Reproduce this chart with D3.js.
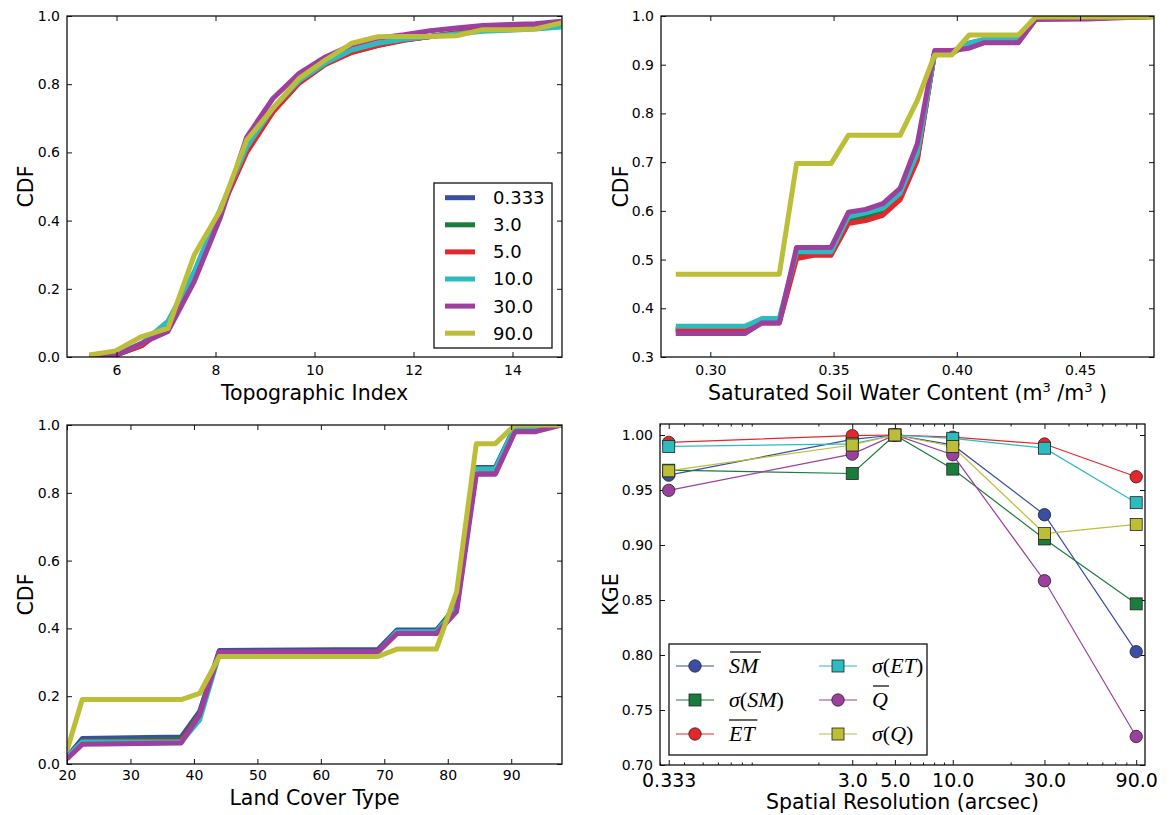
<!DOCTYPE html>
<html>
<head>
<meta charset="utf-8">
<script src="https://cdn.jsdelivr.net/npm/d3@7"></script>
<style>
  body { margin: 0; background: #fff; }
  svg { display: block; }
  text { font-family: "DejaVu Sans", sans-serif; fill: #000; }
  .math { font-family: "Liberation Serif", "DejaVu Serif", serif; }
</style>
</head>
<body>
<svg id="fig" width="1173" height="815"></svg>
<script>
// ---------------- data ----------------
const resolutionLabels = ["0.333", "3.0", "5.0", "10.0", "30.0", "90.0"];

// Topographic index CDFs
const topoX    = [5.45, 5.98, 6.51, 7.04, 7.57, 8.10, 8.63, 9.16, 9.69, 10.22, 10.75, 11.28, 11.81, 12.34, 12.87, 13.40, 13.93, 14.46, 14.99];
const topo0333 = [0.003, 0.006, 0.035, 0.095, 0.245, 0.430, 0.607, 0.724, 0.807, 0.861, 0.895, 0.915, 0.930, 0.940, 0.950, 0.958, 0.965, 0.970, 0.975];
const topo3    = [0.003, 0.006, 0.034, 0.094, 0.243, 0.430, 0.605, 0.722, 0.806, 0.860, 0.894, 0.914, 0.930, 0.940, 0.950, 0.958, 0.965, 0.970, 0.976];
const topo5    = [0.003, 0.005, 0.033, 0.093, 0.240, 0.428, 0.600, 0.718, 0.803, 0.858, 0.893, 0.913, 0.929, 0.940, 0.950, 0.958, 0.965, 0.971, 0.976];
const topo10   = [0.003, 0.007, 0.040, 0.105, 0.250, 0.435, 0.615, 0.730, 0.810, 0.862, 0.900, 0.920, 0.932, 0.940, 0.947, 0.955, 0.958, 0.962, 0.968];
const topo30   = [0.003, 0.004, 0.040, 0.075, 0.221, 0.410, 0.645, 0.758, 0.832, 0.880, 0.915, 0.935, 0.945, 0.957, 0.965, 0.972, 0.975, 0.977, 0.985];
const topo90   = [0.006, 0.018, 0.060, 0.084, 0.299, 0.431, 0.636, 0.729, 0.817, 0.871, 0.920, 0.939, 0.940, 0.940, 0.942, 0.960, 0.960, 0.962, 0.980];
const topoXTicks = [6, 8, 10, 12, 14];

// Saturated soil water content CDFs
const soilX    = [0.286, 0.314, 0.321, 0.328, 0.335, 0.342, 0.349, 0.356, 0.363, 0.370, 0.377, 0.384, 0.391, 0.398, 0.405, 0.411, 0.418, 0.425, 0.432, 0.453, 0.480];
const soil0333 = [0.357, 0.357, 0.375, 0.375, 0.512, 0.514, 0.514, 0.583, 0.590, 0.600, 0.632, 0.712, 0.926, 0.926, 0.944, 0.951, 0.951, 0.951, 0.995, 0.996, 0.999];
const soil3    = [0.356, 0.356, 0.373, 0.373, 0.508, 0.512, 0.512, 0.580, 0.587, 0.597, 0.628, 0.708, 0.925, 0.925, 0.942, 0.950, 0.950, 0.950, 0.995, 0.996, 0.999];
const soil5    = [0.355, 0.355, 0.370, 0.370, 0.502, 0.509, 0.509, 0.574, 0.580, 0.591, 0.623, 0.704, 0.925, 0.925, 0.940, 0.948, 0.948, 0.948, 0.995, 0.996, 0.999];
const soil10   = [0.363, 0.363, 0.379, 0.379, 0.516, 0.516, 0.516, 0.588, 0.596, 0.605, 0.636, 0.718, 0.923, 0.923, 0.944, 0.952, 0.952, 0.952, 0.995, 0.996, 0.999];
const soil30   = [0.348, 0.348, 0.370, 0.370, 0.525, 0.525, 0.525, 0.597, 0.603, 0.615, 0.646, 0.738, 0.929, 0.929, 0.934, 0.945, 0.945, 0.945, 0.993, 0.994, 0.999];
const soil90   = [0.470, 0.470, 0.470, 0.470, 0.697, 0.697, 0.697, 0.755, 0.755, 0.755, 0.755, 0.827, 0.920, 0.920, 0.961, 0.961, 0.961, 0.961, 0.998, 0.998, 0.998];
const soilXTicks = [0.30, 0.35, 0.40, 0.45];
const soilYTicks = [0.3, 0.4, 0.5, 0.6, 0.7, 0.8, 0.9, 1.0];

// Land cover type CDFs
const landX    = [20, 22.4, 38.0, 40.9, 44.0, 69.0, 72.0, 78.2, 81.4, 84.5, 87.5, 90.6, 93.7, 98];
const land0333 = [0.020, 0.075, 0.080, 0.155, 0.335, 0.338, 0.395, 0.395, 0.465, 0.875, 0.875, 0.995, 0.995, 1.000];
const land3    = [0.020, 0.068, 0.072, 0.150, 0.330, 0.332, 0.390, 0.390, 0.470, 0.870, 0.870, 0.995, 0.995, 1.000];
const land5    = [0.020, 0.065, 0.068, 0.145, 0.330, 0.330, 0.385, 0.385, 0.465, 0.865, 0.865, 0.990, 0.990, 1.000];
const land10   = [0.020, 0.065, 0.065, 0.130, 0.325, 0.330, 0.390, 0.390, 0.460, 0.870, 0.870, 0.995, 0.995, 1.000];
const land30   = [0.015, 0.058, 0.062, 0.145, 0.330, 0.332, 0.385, 0.385, 0.450, 0.855, 0.855, 0.980, 0.980, 1.000];
const land90   = [0.040, 0.190, 0.190, 0.208, 0.317, 0.317, 0.339, 0.339, 0.508, 0.945, 0.945, 1.000, 1.000, 1.000];
const landXTicks = [20, 30, 40, 50, 60, 70, 80, 90];

const cdfYTicks = [0.0, 0.2, 0.4, 0.6, 0.8, 1.0];

// KGE against spatial resolution
const kgeResolution = [0.333, 3.0, 5.0, 10.0, 30.0, 90.0];
const kgeMeanSM = [0.9635, 0.996, 1.000, 0.991, 0.9275, 0.803];
const kgeSdSM   = [0.968, 0.965, 1.000, 0.969, 0.9055, 0.8465];
const kgeMeanET = [0.9933, 0.9994, 1.000, 0.998, 0.9918, 0.962];
const kgeSdET   = [0.9896, 0.992, 1.000, 0.997, 0.988, 0.9385];
const kgeMeanQ  = [0.9497, 0.9826, 1.000, 0.982, 0.8675, 0.7259];
const kgeSdQ    = [0.9674, 0.9909, 1.000, 0.9896, 0.9104, 0.9187];
const kgeYTicks = [0.70, 0.75, 0.80, 0.85, 0.90, 0.95, 1.00];

// ---------------- styling ----------------
const palette = ["#3a4ea3", "#1b7d3b", "#e5262b", "#2cbcc0", "#9c3f9f", "#bdbe37"];

const svg = d3.select("#fig");

// Draws the frame and inward ticks on all four sides of a panel.
function setupAxes(box, x, y, opt) {
  const w = box.x1 - box.x0, h = box.y1 - box.y0;
  const g = svg.append("g").attr("transform", `translate(${box.x0},${box.y0})`);

  const clipId = "clip" + Math.random().toString(36).slice(2);
  g.append("clipPath").attr("id", clipId)
    .append("rect").attr("width", w).attr("height", h);
  const plot = g.append("g").attr("clip-path", `url(#${clipId})`);

  const style = (sel, size) => {
    sel.attr("font-family", null).attr("font-size", null).attr("color", "#000");
    sel.select(".domain").remove();
    sel.selectAll("line").attr("stroke", "#111").attr("stroke-width", 1);
    sel.selectAll("text").style("font-size", size + "px");
  };

  const xs = opt.xTickSize || 14, ys = opt.yTickSize || 14;
  // bottom
  g.append("g").attr("transform", `translate(0,${h})`)
    .call(d3.axisBottom(x).tickValues(opt.xTicks).tickFormat(opt.xFmt)
      .tickSizeInner(-5).tickSizeOuter(0).tickPadding(opt.xPad || 8))
    .call(s => style(s, xs));
  // top
  g.append("g")
    .call(d3.axisTop(x).tickValues(opt.xTicks).tickFormat("")
      .tickSizeInner(-5).tickSizeOuter(0))
    .call(s => style(s, xs));
  // left
  g.append("g")
    .call(d3.axisLeft(y).tickValues(opt.yTicks).tickFormat(opt.yFmt)
      .tickSizeInner(-5).tickSizeOuter(0).tickPadding(7))
    .call(s => style(s, ys));
  // right
  g.append("g").attr("transform", `translate(${w},0)`)
    .call(d3.axisRight(y).tickValues(opt.yTicks).tickFormat("")
      .tickSizeInner(-5).tickSizeOuter(0))
    .call(s => style(s, ys));

  if (opt.xMinor) {
    g.append("g").attr("transform", `translate(0,${h})`)
      .call(d3.axisBottom(x).tickValues(opt.xMinor).tickFormat("")
        .tickSizeInner(-2.5).tickSizeOuter(0))
      .call(s => style(s, xs));
    g.append("g")
      .call(d3.axisTop(x).tickValues(opt.xMinor).tickFormat("")
        .tickSizeInner(-2.5).tickSizeOuter(0))
      .call(s => style(s, xs));
  }

  g.append("rect").attr("width", w).attr("height", h)
    .attr("fill", "none").attr("stroke", "#111").attr("stroke-width", 1.3);

  return { g, plot, w, h };
}

function yLabel(text, xPos, yCenter) {
  svg.append("text")
    .attr("transform", `translate(${xPos},${yCenter}) rotate(-90)`)
    .attr("text-anchor", "middle").style("font-size", "20.5px").text(text);
}
function xLabel(text, xCenter, yPos) {
  return svg.append("text").attr("x", xCenter).attr("y", yPos)
    .attr("text-anchor", "middle").style("font-size", "20.5px").text(text);
}

function cdfLines(plot, x, y, xs, seriesList) {
  const line = d3.line().x((d, i) => x(xs[i])).y(d => y(d));
  seriesList.forEach((vals, k) => {
    plot.append("path").datum(vals).attr("d", line)
      .attr("fill", "none").attr("stroke", palette[k])
      .attr("stroke-width", 5).attr("stroke-linejoin", "round");
  });
}

// ---------------- panel 1: topographic index ----------------
{
  const box = { x0: 67, y0: 16, x1: 562, y1: 357 };
  const x = d3.scaleLinear().domain([5, 15]).range([0, box.x1 - box.x0]);
  const y = d3.scaleLinear().domain([0, 1]).range([box.y1 - box.y0, 0]);
  const ax = setupAxes(box, x, y, {
    xTicks: topoXTicks, xFmt: d3.format("d"),
    yTicks: cdfYTicks, yFmt: d3.format(".1f"), xPad: 8
  });
  cdfLines(ax.plot, x, y, topoX, [topo0333, topo3, topo5, topo10, topo30, topo90]);

  // legend
  const lg = svg.append("g").attr("transform", "translate(434,183)");
  lg.append("rect").attr("width", 118).attr("height", 165)
    .attr("fill", "#fff").attr("stroke", "#111").attr("stroke-width", 1.3);
  resolutionLabels.forEach((lab, i) => {
    const yy = 14.7 + 27.1 * i;
    lg.append("line").attr("x1", 11).attr("x2", 41).attr("y1", yy).attr("y2", yy)
      .attr("stroke", palette[i]).attr("stroke-width", 5);
    lg.append("text").attr("x", 59).attr("y", yy).attr("dy", "0.36em")
      .style("font-size", "18px").text(lab);
  });

  yLabel("CDF", 33, (box.y0 + box.y1) / 2);
  xLabel("Topographic Index", (box.x0 + box.x1) / 2, 400);
}

// ---------------- panel 2: saturated soil water content ----------------
{
  const box = { x0: 661, y0: 16, x1: 1154, y1: 357 };
  const x = d3.scaleLinear().domain([0.28, 0.48]).range([0, box.x1 - box.x0]);
  const y = d3.scaleLinear().domain([0.3, 1.0]).range([box.y1 - box.y0, 0]);
  const ax = setupAxes(box, x, y, {
    xTicks: soilXTicks, xFmt: d3.format(".2f"),
    yTicks: soilYTicks, yFmt: d3.format(".1f"), xPad: 8
  });
  cdfLines(ax.plot, x, y, soilX, [soil0333, soil3, soil5, soil10, soil30, soil90]);

  yLabel("CDF", 628, (box.y0 + box.y1) / 2);
  const t = xLabel("", (box.x0 + box.x1) / 2, 400);
  t.append("tspan").text("Saturated Soil Water Content (m");
  t.append("tspan").attr("dy", -8).style("font-size", "13px").text("3");
  t.append("tspan").attr("dy", 8).text(" /m");
  t.append("tspan").attr("dy", -8).style("font-size", "13px").text("3");
  t.append("tspan").attr("dy", 8).text(" )");
}

// ---------------- panel 3: land cover type ----------------
{
  const box = { x0: 67, y0: 425, x1: 562, y1: 764 };
  const x = d3.scaleLinear().domain([20, 98]).range([0, box.x1 - box.x0]);
  const y = d3.scaleLinear().domain([0, 1]).range([box.y1 - box.y0, 0]);
  const ax = setupAxes(box, x, y, {
    xTicks: landXTicks, xFmt: d3.format("d"),
    yTicks: cdfYTicks, yFmt: d3.format(".1f"), xPad: 6
  });
  cdfLines(ax.plot, x, y, landX, [land0333, land3, land5, land10, land30, land90]);

  yLabel("CDF", 33, (box.y0 + box.y1) / 2);
  xLabel("Land Cover Type", (box.x0 + box.x1) / 2, 805);
}

// ---------------- panel 4: KGE vs spatial resolution ----------------
{
  const box = { x0: 660, y0: 424, x1: 1145, y1: 765 };
  const x = d3.scaleLog().domain([0.3, 100]).range([0, box.x1 - box.x0]);
  const y = d3.scaleLinear().domain([0.70, 1.01]).range([box.y1 - box.y0, 0]);

  // minor log ticks (2..9 per decade), skipping the labelled positions
  const minor = [];
  [0.1, 1, 10].forEach(dec => {
    for (let m = 2; m <= 9; m++) {
      const v = +(m * dec).toPrecision(3);
      if (v >= 0.3 && v <= 100 && !kgeResolution.includes(v)) minor.push(v);
    }
  });

  const ax = setupAxes(box, x, y, {
    xTicks: kgeResolution, xFmt: (d, i) => resolutionLabels[i],
    yTicks: kgeYTicks, yFmt: d3.format(".2f"), xPad: 9,
    xTickSize: 19, yTickSize: 14, xMinor: minor
  });

  const kgeSeries = [
    { vals: kgeMeanSM, shape: "circle" },
    { vals: kgeSdSM,   shape: "square" },
    { vals: kgeMeanET, shape: "circle" },
    { vals: kgeSdET,   shape: "square" },
    { vals: kgeMeanQ,  shape: "circle" },
    { vals: kgeSdQ,    shape: "square" }
  ];

  const line = d3.line().x((d, i) => x(kgeResolution[i])).y(d => y(d));
  const drawMarker = (sel, shape, cx, cy, color) => {
    if (shape === "circle") {
      sel.append("circle").attr("cx", cx).attr("cy", cy).attr("r", 6.2)
        .attr("fill", color).attr("stroke", "#222").attr("stroke-width", 0.8);
    } else {
      sel.append("rect").attr("x", cx - 6).attr("y", cy - 6)
        .attr("width", 12).attr("height", 12)
        .attr("fill", color).attr("stroke", "#222").attr("stroke-width", 0.8);
    }
  };

  kgeSeries.forEach((s, k) => {
    const sg = ax.g.append("g");
    sg.append("path").datum(s.vals).attr("d", line)
      .attr("fill", "none").attr("stroke", palette[k]).attr("stroke-width", 1.2);
    s.vals.forEach((v, i) => drawMarker(sg, s.shape, x(kgeResolution[i]), y(v), palette[k]));
  });

  // legend
  const lg = svg.append("g").attr("transform", "translate(669,644)");
  lg.append("rect").attr("width", 258).attr("height", 111)
    .attr("fill", "#fff").attr("stroke", "#111").attr("stroke-width", 1.3);

  const legendText = [
    { parts: [["SM", true]], bar: true },
    { parts: [["σ", true], ["(", false], ["SM", true], [")", false]] },
    { parts: [["ET", true]], bar: true },
    { parts: [["σ", true], ["(", false], ["ET", true], [")", false]] },
    { parts: [["Q", true]], bar: true },
    { parts: [["σ", true], ["(", false], ["Q", true], [")", false]] }
  ];
  legendText.forEach((lt, k) => {
    const col = Math.floor(k / 3), row = k % 3;
    const hx = col === 0 ? 7 : 150, cy = 22 + 34 * row;
    lg.append("line").attr("x1", hx).attr("x2", hx + 38).attr("y1", cy).attr("y2", cy)
      .attr("stroke", palette[k]).attr("stroke-width", 1.2);
    drawMarker(lg, kgeSeries[k].shape, hx + 19, cy, palette[k]);
    const t = lg.append("text").attr("class", "math")
      .attr("x", hx + 53).attr("y", cy + 7).style("font-size", "22px");
    lt.parts.forEach(([s, it]) => {
      t.append("tspan").style("font-style", it ? "italic" : "normal").text(s);
    });
    if (lt.bar) {
      const bb = t.node().getBBox();
      lg.append("line").attr("x1", bb.x + 1).attr("x2", bb.x + bb.width + 1)
        .attr("y1", cy - 14).attr("y2", cy - 14)
        .attr("stroke", "#000").attr("stroke-width", 1.2);
    }
  });

  yLabel("KGE", 618, (box.y0 + box.y1) / 2);
  xLabel("Spatial Resolution (arcsec)", (box.x0 + box.x1) / 2, 809);
}
</script>
</body>
</html>
